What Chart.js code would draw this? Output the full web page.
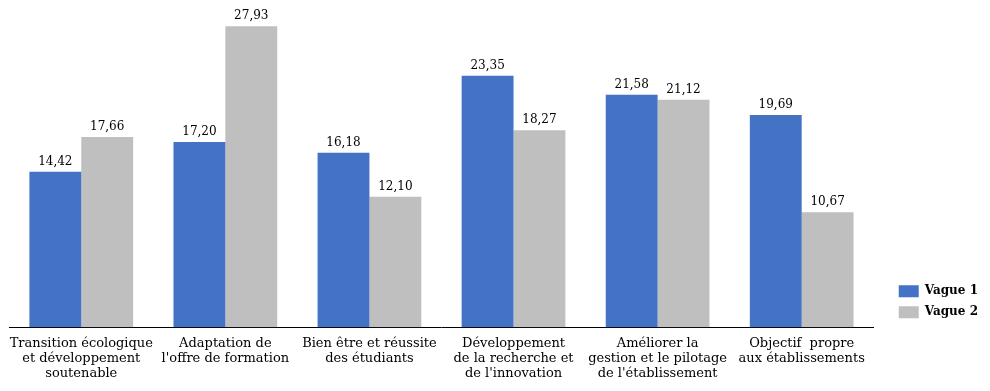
<!DOCTYPE html>
<html lang="fr">
<head>
    <meta charset="UTF-8">
    <title>Vague 1 / Vague 2</title>
    <script src="https://cdn.jsdelivr.net/npm/chart.js@4.4.0/dist/chart.umd.min.js"></script>
    <style>
        html, body { margin: 0; padding: 0; background: #fff; }
        #wrap { width: 990px; height: 391px; position: relative; }
    </style>
</head>
<body>
<div id="wrap"><canvas id="myChart"></canvas></div>
<script>
    // catégories (libellés sur plusieurs lignes)
    var categories = [
        ['Transition écologique', 'et développement', 'soutenable'],
        ['Adaptation de', "l'offre de formation"],
        ['Bien être et réussite', 'des étudiants'],
        ['Développement', 'de la recherche et', "de l'innovation"],
        ['Améliorer la', 'gestion et le pilotage', "de l'établissement"],
        ['Objectif  propre', 'aux établissements']
    ];
    var vague1 = [14.42, 17.20, 16.18, 23.35, 21.58, 19.69];
    var vague2 = [17.66, 27.93, 12.10, 18.27, 21.12, 10.67];

    var serif = "'DejaVu Serif', serif";

    // étiquettes de valeur au-dessus des barres
    var valueLabels = {
        id: 'valueLabels',
        afterDatasetsDraw: function(chart) {
            var ctx = chart.ctx;
            ctx.save();
            ctx.font = '12px ' + serif;
            ctx.fillStyle = '#000';
            ctx.textAlign = 'center';
            ctx.textBaseline = 'bottom';
            chart.data.datasets.forEach(function(ds, i) {
                var meta = chart.getDatasetMeta(i);
                meta.data.forEach(function(bar, j) {
                    var txt = ds.data[j].toFixed(2).replace('.', ',');
                    ctx.fillText(txt, bar.x, bar.y - 4);
                });
            });
            ctx.restore();
        }
    };

    new Chart(document.getElementById('myChart'), {
        type: 'bar',
        data: {
            labels: categories,
            datasets: [{
                label: 'Vague 1',
                data: vague1,
                backgroundColor: '#4472C4'
            }, {
                label: 'Vague 2',
                data: vague2,
                backgroundColor: '#BFBFBF'
            }]
        },
        options: {
            responsive: true,
            maintainAspectRatio: false,
            animation: false,
            datasets: {
                bar: { categoryPercentage: 0.72, barPercentage: 1.0 }
            },
            layout: {
                padding: { left: 8, top: 4, right: 2, bottom: 1 }
            },
            scales: {
                x: {
                    grid: { display: false, drawTicks: false },
                    border: { display: true, color: '#000', width: 1 },
                    ticks: {
                        color: '#000',
                        padding: 9,
                        maxRotation: 0,
                        autoSkip: false,
                        font: { family: serif, size: 13, lineHeight: 1.15 }
                    }
                },
                y: {
                    // axe invisible, sert juste d'espace entre le graphe et la légende
                    position: 'right',
                    min: 0,
                    max: 30,
                    grid: { display: false },
                    border: { display: false },
                    ticks: { display: false },
                    afterFit: function(scale) { scale.width = 16; }
                }
            },
            plugins: {
                legend: {
                    position: 'right',
                    align: 'end',
                    fullSize: false,
                    labels: {
                        boxWidth: 20,
                        boxHeight: 12,
                        padding: 9,
                        color: '#000',
                        font: { family: serif, size: 12, weight: 'bold' }
                    }
                },
                tooltip: { enabled: false }
            }
        },
        plugins: [valueLabels]
    });
</script>
</body>
</html>
